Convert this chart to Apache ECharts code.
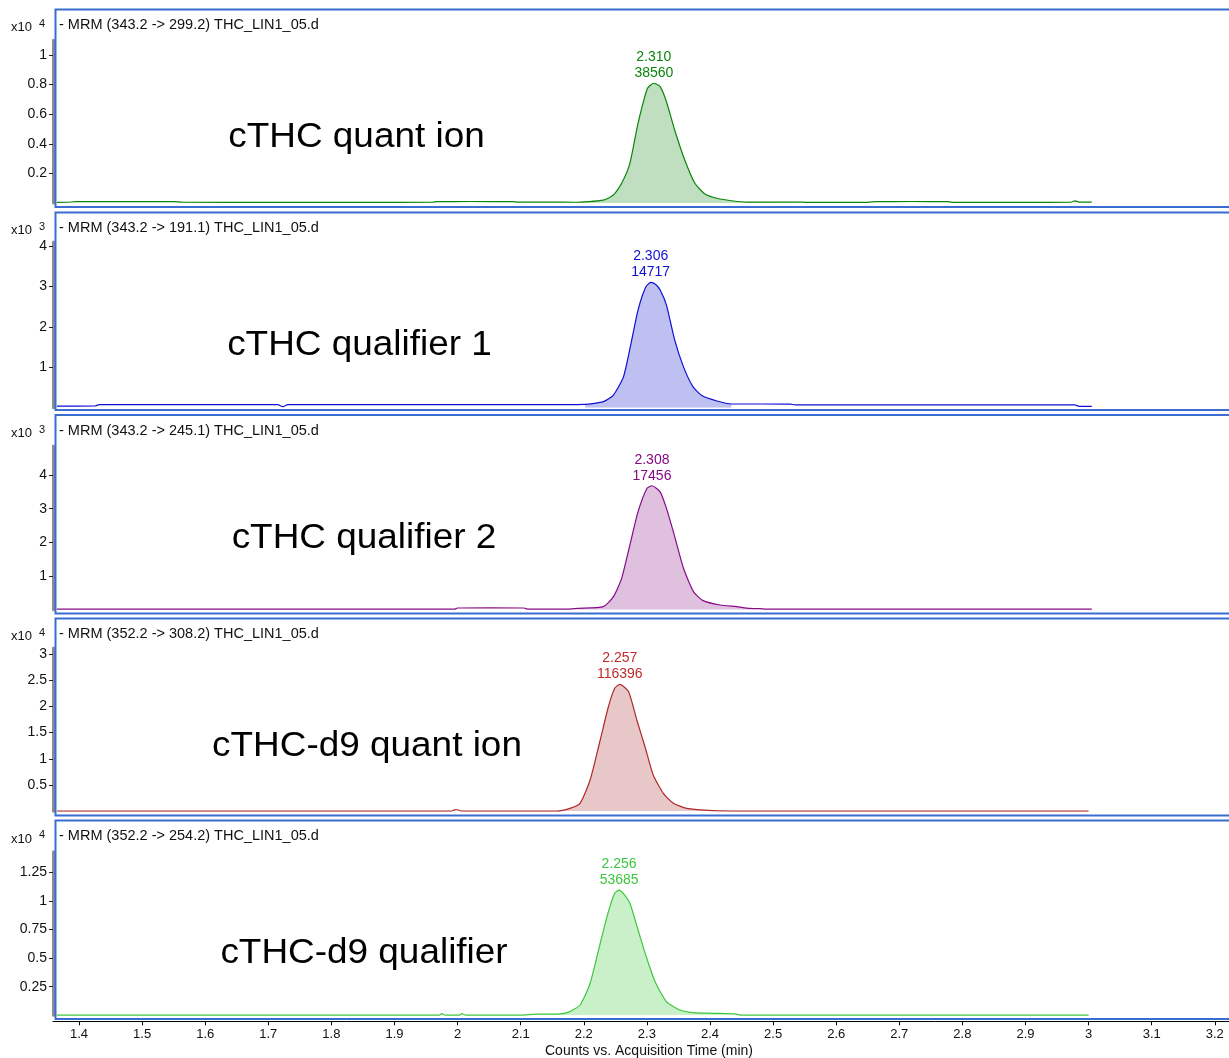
<!DOCTYPE html>
<html>
<head>
<meta charset="utf-8">
<title>cTHC MRM chromatograms</title>
<script src="https://cdn.jsdelivr.net/npm/echarts@6/dist/echarts.min.js"></script>
<style>
  html, body { margin: 0; padding: 0; background: #fff; }
  #chart { width: 1229px; height: 1058px; }
</style>
</head>
<body>
<div id="chart"></div>
<script>
// acquisition time ticks (min)
const timeTicks = [1.4, 1.5, 1.6, 1.7, 1.8, 1.9, 2, 2.1, 2.2, 2.3, 2.4, 2.5, 2.6, 2.7, 2.8, 2.9, 3, 3.1, 3.2];

// traces: [time (min), counts]
const quantTrace = [
  [1.365, 40], [1.382, 50], [1.395, 90], [1.45, 95], [1.5, 95], [1.549, 90], [1.565, 50], [1.7, 45], [1.85, 45],
  [1.96, 50], [1.968, 95], [2.02, 100], [2.088, 95], [2.095, 55], [2.15, 55],
  [2.186, 50], [2.231, 200], [2.247, 540], [2.26, 1330], [2.273, 2680], [2.286, 5390], [2.301, 7750], [2.311, 8090],
  [2.321, 7860], [2.331, 6840], [2.344, 4930], [2.36, 2900], [2.376, 1330], [2.392, 610], [2.411, 320], [2.437, 135],
  [2.458, 60], [2.543, 60],
  [2.552, 45], [2.65, 45], [2.663, 95], [2.72, 100], [2.776, 95], [2.784, 45], [2.9, 45], [2.972, 50], [2.978, 150],
  [2.985, 60], [3.005, 60]
];
const qual1Trace = [
  [1.365, 40], [1.425, 42], [1.432, 75], [1.6, 75], [1.715, 75], [1.723, 25], [1.731, 75], [1.9, 75], [2.1, 75],
  [2.202, 84], [2.231, 150], [2.247, 314], [2.263, 770], [2.276, 1680], [2.286, 2420], [2.298, 2980], [2.306, 3100],
  [2.314, 3050], [2.321, 2910], [2.331, 2540], [2.344, 1680], [2.358, 1010], [2.373, 520], [2.387, 300], [2.411, 165],
  [2.434, 92], [2.527, 90],
  [2.535, 68], [2.7, 68], [2.9, 68], [2.978, 68], [2.985, 35], [3.005, 35]
];
const qual2Trace = [
  [1.365, 15], [1.6, 15], [1.8, 15], [1.995, 15], [2.0, 50], [2.05, 55], [2.105, 50], [2.112, 15], [2.17, 15],
  [2.191, 40], [2.231, 90], [2.247, 390], [2.26, 930], [2.273, 1920], [2.286, 2910], [2.3, 3600], [2.308, 3680],
  [2.321, 3500], [2.331, 3010], [2.342, 2310], [2.358, 1230], [2.374, 530], [2.389, 270], [2.416, 140], [2.442, 90],
  [2.463, 40], [2.479, 30],
  [2.49, 15], [2.7, 15], [2.9, 15], [3.005, 15]
];
const d9QuantTrace = [
  [1.365, 10], [1.7, 10], [1.99, 10], [1.995, 250], [2.0, 280], [2.006, 10], [2.1, 10],
  [2.131, 15], [2.157, 15], [2.178, 550], [2.194, 1510], [2.21, 5950], [2.226, 13590], [2.239, 19940], [2.249, 23450],
  [2.257, 24220], [2.271, 22810], [2.284, 17400], [2.297, 12310], [2.31, 6910], [2.326, 3420], [2.342, 1510],
  [2.363, 550], [2.405, 100], [2.442, 20],
  [2.45, 10], [2.7, 10], [3.0, 10]
];
const d9QualTrace = [
  [1.365, 10], [1.7, 10], [1.97, 10], [1.975, 140], [1.981, 10], [2.002, 10], [2.007, 140], [2.013, 10], [2.1, 10],
  [2.125, 110], [2.157, 110], [2.175, 260], [2.194, 900], [2.21, 2800], [2.226, 6290], [2.239, 9060], [2.249, 10660],
  [2.256, 10950], [2.272, 9930], [2.286, 7460], [2.299, 5120], [2.313, 2940], [2.331, 1190], [2.352, 460],
  [2.374, 230], [2.405, 175], [2.442, 110],
  [2.45, 10], [2.7, 10], [3.0, 10]
];

// integration windows (min)
const quantWindow = [2.186, 2.543];
const qual1Window = [2.202, 2.434];
const qual2Window = [2.191, 2.479];
const d9QuantWindow = [2.131, 2.442];
const d9QualWindow = [2.125, 2.442];

// peak labels
const peakTimes = ['2.310', '2.306', '2.308', '2.257', '2.256'];
const peakAreas = ['38560', '14717', '17456', '116396', '53685'];

const transitions = [
  '- MRM (343.2 -> 299.2) THC_LIN1_05.d',
  '- MRM (343.2 -> 191.1) THC_LIN1_05.d',
  '- MRM (343.2 -> 245.1) THC_LIN1_05.d',
  '- MRM (352.2 -> 308.2) THC_LIN1_05.d',
  '- MRM (352.2 -> 254.2) THC_LIN1_05.d'
];
const ionNames = ['cTHC quant ion', 'cTHC qualifier 1', 'cTHC qualifier 2', 'cTHC-d9 quant ion', 'cTHC-d9 qualifier'];

// y scale exponent (x10^n) and tick labels per panel
const yExponents = [4, 3, 3, 4, 4];
const yTicksQuant = [0.2, 0.4, 0.6, 0.8, 1];
const yTicksQual1 = [1, 2, 3, 4];
const yTicksQual2 = [1, 2, 3, 4];
const yTicksD9Quant = [0.5, 1, 1.5, 2, 2.5, 3];
const yTicksD9Qual = [0.25, 0.5, 0.75, 1, 1.25];
const yMaxes = [1.1, 4.1, 4.86, 3.115, 1.43];

const traces = [quantTrace, qual1Trace, qual2Trace, d9QuantTrace, d9QualTrace];
const windows = [quantWindow, qual1Window, qual2Window, d9QuantWindow, d9QualWindow];
const yTicks = [yTicksQuant, yTicksQual1, yTicksQual2, yTicksD9Quant, yTicksD9Qual];

// layout / styling
const lineColors = ['#0b850b', '#1010d4', '#860a86', '#b02828', '#3cc83c'];
const labelColors = ['#0b850b', '#1010d4', '#860a86', '#c02a2a', '#3cc83c'];
const fillColors = ['#c0dfc0', '#bdc0f1', '#dfc1df', '#e7c7c7', '#c9f0c9'];
const layout = [
  { top: 40.2, zero: 203,    frame: [9.5, 207],    head: 24.5,  name: [356.5, 137] },
  { top: 242,  zero: 407.7,  frame: [212.5, 410],  head: 227.5, name: [359.5, 345] },
  { top: 446,  zero: 609.7,  frame: [415, 613.5],  head: 430.5, name: [364, 538] },
  { top: 648,  zero: 811.2,  frame: [618.5, 815.5], head: 633.5, name: [367, 746] },
  { top: 851.7, zero: 1015.3, frame: [820.5, 1019], head: 836,  name: [364, 953] }
];
const FONT = "'Liberation Sans', Arial, sans-serif";
const X_MIN = 1.3588, X_MAX = 3.2225;

let myChart = echarts.init(document.getElementById('chart'));

let grids = [], xAxes = [], yAxes = [], series = [], graphics = [];

layout.forEach(function (L, i) {
  const scale = Math.pow(10, yExponents[i]);
  const tickVals = yTicks[i].map(t => Math.round(t * scale));
  grids.push({ left: 53, right: 0, top: L.top, height: L.zero - L.top, outerBoundsMode: 'none' });

  const last = i === layout.length - 1;
  xAxes.push({
    type: 'value', gridIndex: i, min: X_MIN, max: X_MAX, show: last,
    position: 'bottom', offset: 6,
    axisLine: { onZero: false, lineStyle: { color: '#000', width: 1 } },
    axisTick: { customValues: timeTicks, length: 4, lineStyle: { color: '#000' } },
    axisLabel: {
      customValues: timeTicks, fontSize: 13, color: '#111', margin: 7, fontFamily: FONT,
      formatter: v => String(Math.round(v * 10) / 10)
    },
    splitLine: { show: false },
    name: last ? 'Counts vs. Acquisition Time (min)' : '',
    nameLocation: 'middle', nameGap: 23,
    nameTextStyle: { fontSize: 14, color: '#111', fontFamily: FONT, padding: [0, 0, 0, 16] }
  });

  yAxes.push({
    type: 'value', gridIndex: i, min: 0, max: Math.round(yMaxes[i] * scale),
    axisLine: { show: true, lineStyle: { color: '#8c8c8c', width: 3 } },
    axisTick: { show: true, customValues: tickVals, length: 4, lineStyle: { color: '#222' } },
    axisLabel: {
      customValues: tickVals, fontSize: 14, color: '#111', margin: 6, fontFamily: FONT,
      formatter: v => String(Math.round(v / scale * 100) / 100)
    },
    splitLine: { show: false }
  });

  const win = windows[i];
  const peakPart = traces[i].filter(p => p[0] >= win[0] && p[0] <= win[1]);

  series.push({
    type: 'line', xAxisIndex: i, yAxisIndex: i, data: peakPart,
    showSymbol: false, smooth: 0.2, lineStyle: { width: 0 },
    areaStyle: { color: fillColors[i], opacity: 1 }, z: 2,
    markPoint: {
      symbol: 'circle', symbolSize: 0, animation: false,
      label: {
        show: true, position: 'top', distance: 2, color: labelColors[i],
        fontSize: 14, lineHeight: 16, fontFamily: FONT,
        formatter: peakTimes[i] + '\n' + peakAreas[i]
      },
      data: [{ type: 'max' }]
    }
  });
  series.push({
    type: 'line', xAxisIndex: i, yAxisIndex: i, data: traces[i],
    showSymbol: false, smooth: 0.2, lineStyle: { color: lineColors[i], width: 1.2 }, z: 3
  });

  // panel frame
  graphics.push({
    type: 'rect', z: 1,
    shape: { x: 55.5, y: L.frame[0], width: 1200, height: L.frame[1] - L.frame[0] },
    style: { fill: null, stroke: '#3a6dd2', lineWidth: 2 }
  });
  // header texts
  graphics.push({
    type: 'text', x: 59, y: L.head,
    style: { text: transitions[i], fill: '#111', font: '14.5px ' + FONT, textVerticalAlign: 'middle' }
  });
  graphics.push({
    type: 'text', x: 11, y: L.head + 3,
    style: { text: 'x10', fill: '#111', font: '13px ' + FONT, textVerticalAlign: 'middle' }
  });
  graphics.push({
    type: 'text', x: 39, y: L.head - 1,
    style: { text: String(yExponents[i]), fill: '#111', font: '11px ' + FONT, textVerticalAlign: 'middle' }
  });
  // big ion name
  graphics.push({
    type: 'text', x: L.name[0], y: L.name[1], scaleX: 1.04,
    style: { text: ionNames[i], fill: '#000', font: '35.5px ' + FONT, textAlign: 'center', textVerticalAlign: 'middle' }
  });
});

let option = {
  animation: false,
  backgroundColor: '#fff',
  grid: grids,
  xAxis: xAxes,
  yAxis: yAxes,
  series: series,
  graphic: graphics
};
myChart.setOption(option);
</script>
</body>
</html>
